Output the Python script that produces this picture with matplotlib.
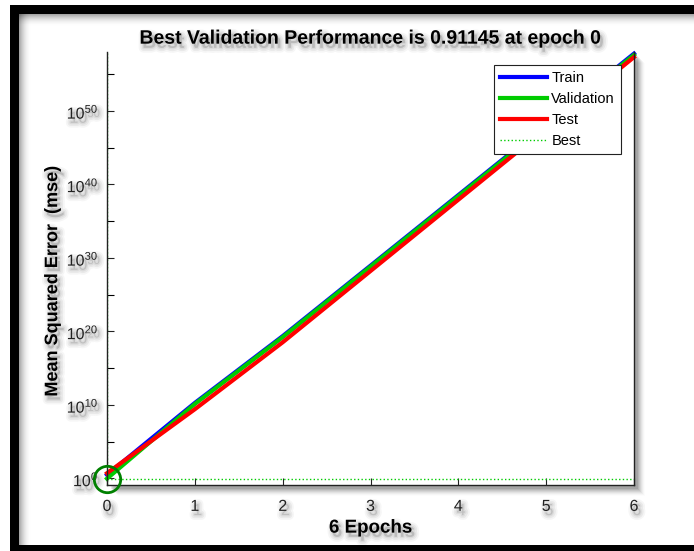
import numpy as np
import matplotlib
matplotlib.use("Agg")
import matplotlib.pyplot as plt
import matplotlib.patheffects as pe
from matplotlib.patches import Rectangle
from matplotlib.ticker import FixedLocator, FuncFormatter, NullFormatter

plt.rcParams['font.family'] = ['Liberation Sans', 'DejaVu Sans']
plt.rcParams['mathtext.fontset'] = 'custom'
plt.rcParams['mathtext.rm'] = 'Liberation Sans'
plt.rcParams['mathtext.it'] = 'Liberation Sans:italic'
plt.rcParams['mathtext.bf'] = 'Liberation Sans:bold'

# training record (mse per epoch)
epochs = [0, 1, 2, 3, 4, 5, 6]
train_mse = [3.0, 1.8e10, 2.2e19, 8.5e28, 3.4e38, 1.4e48, 6.0e57]
val_mse = [0.91145, 1.3e10, 1.6e19, 6.3e28, 2.5e38, 1.0e48, 4.0e57]
test_mse = [5.0, 2.5e9, 3.2e18, 1.6e28, 8.0e37, 4.0e47, 2.0e57]
best_epoch = 0
best_perf = 0.91145

# soft grey drop shadow for text (stacked strokes fake a blur)
shadow = [pe.Stroke(offset=(2, -3), linewidth=7, foreground='k', alpha=0.035),
          pe.Stroke(offset=(2, -3), linewidth=4.5, foreground='k', alpha=0.05),
          pe.Stroke(offset=(2, -3), linewidth=2, foreground='k', alpha=0.06),
          pe.Normal()]

W, H = 694, 551
fig = plt.figure(figsize=(W / 100, H / 100), dpi=100)
fig.patch.set_facecolor('white')

def frect(x, y, w, h, **kw):
    # rectangle given in pixels from the top-left corner
    fig.patches.append(Rectangle((x / W, 1 - (y + h) / H), w / W, h / H,
                                 transform=fig.transFigure, lw=0, **kw))

# black frame with a fading shadow on its inner side
for i in range(12):
    a = 0.35 * (1 - i / 12) ** 2
    frect(19 + i, 14, 1.2, H, color='k', alpha=a)
    frect(19, 14 + i, W, 1.2, color='k', alpha=a)
frect(10, 5, 9, H, color='k')
frect(10, 5, W, 9, color='k')
frect(10, 545, W, 10, color='k')

# plot box position
left, right, top, bottom = 107, 634, 52, 485
ax = fig.add_axes([left / W, 1 - bottom / H, (right - left) / W, (bottom - top) / H])

# shadow behind the plot box
for i in range(8):
    frect(left + 4 + i, top + 4 + i, right - left, bottom - top, color='k',
          alpha=0.09 * (1 - i / 8), zorder=-1)
ax.set_zorder(2)

ax.semilogy(epochs, train_mse, color=(0, 0, 1), lw=3, label='Train', clip_on=False)
ax.semilogy(epochs, val_mse, color=(0, 0.8, 0), lw=3, label='Validation', clip_on=False)
ax.semilogy(epochs, test_mse, color=(1, 0, 0), lw=3, label='Test', clip_on=False)
ax.axhline(best_perf, color=(0, 0.8, 0), lw=1, ls=':', label='Best')
ax.axvline(best_epoch, color=(0, 0.8, 0), lw=1, ls=':')
ax.plot([best_epoch], [best_perf], 'o', ms=19, mfc='none', mec=(0, 0.5, 0), mew=2,
        clip_on=False, zorder=5)

ax.set_xlim(0, 6)
ax.set_ylim(10.0 ** -0.91, 10.0 ** 58)
ax.set_xticks(epochs)
ax.yaxis.set_major_locator(FixedLocator([10.0 ** k for k in range(0, 51, 10)]))
ax.yaxis.set_minor_locator(FixedLocator([10.0 ** k for k in range(5, 58, 10)]))
ax.yaxis.set_major_formatter(FuncFormatter(lambda v, p: r'$10^{%d}$' % round(np.log10(v))))
ax.yaxis.set_minor_formatter(NullFormatter())
ax.tick_params(direction='in', length=5, width=0.8, labelsize=11.5, colors='#222222',
               labelcolor='#222222')
ax.tick_params(axis='x', pad=10)
ax.tick_params(axis='y', pad=6)
ax.tick_params(which='minor', direction='in', length=5, width=0.8)
ax.spines['top'].set_visible(False)
for s in ('left', 'bottom', 'right'):
    ax.spines[s].set_linewidth(1.0)
    ax.spines[s].set_color('#222222')

for lab in ax.get_xticklabels() + ax.get_yticklabels():
    lab.set_path_effects(shadow)

t = ax.set_title('Best Validation Performance is 0.91145 at epoch 0', fontsize=14,
                 fontweight='bold', pad=6)
t.set_path_effects(shadow)
xl = ax.set_xlabel('6 Epochs', fontsize=13.5, fontweight='bold')
xl.set_path_effects(shadow)
ax.xaxis.set_label_coords(0.5, -0.08)
yl = ax.set_ylabel('Mean Squared Error  (mse)', fontsize=13, fontweight='bold')
yl.set_path_effects(shadow)
ax.yaxis.set_label_coords(-0.087, 0.47)

leg = ax.legend(loc='upper right', bbox_to_anchor=(0.975, 0.97), borderaxespad=0,
                fontsize=10.5, fancybox=False, framealpha=1, edgecolor='#222222',
                handlelength=3.2, handletextpad=0.3, borderpad=0.4, labelspacing=0.48)
leg.get_frame().set_linewidth(0.8)

fig.savefig('out.png', dpi=100)
